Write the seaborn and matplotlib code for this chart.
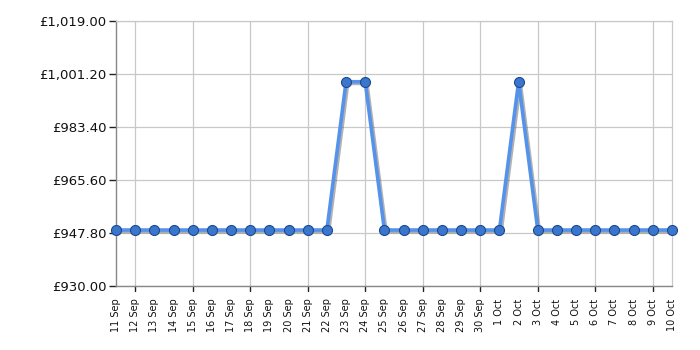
import matplotlib
matplotlib.use("Agg")
import matplotlib.pyplot as plt
import matplotlib.patheffects as pe
import seaborn as sns
import pandas as pd
import numpy as np

dates = ["11 Sep", "12 Sep", "13 Sep", "14 Sep", "15 Sep", "16 Sep", "17 Sep", "18 Sep",
         "19 Sep", "20 Sep", "21 Sep", "22 Sep", "23 Sep", "24 Sep", "25 Sep", "26 Sep",
         "27 Sep", "28 Sep", "29 Sep", "30 Sep", "1 Oct", "2 Oct", "3 Oct", "4 Oct",
         "5 Oct", "6 Oct", "7 Oct", "8 Oct", "9 Oct", "10 Oct"]
prices = [948.80, 948.80, 948.80, 948.80, 948.80, 948.80, 948.80, 948.80,
          948.80, 948.80, 948.80, 948.80, 998.60, 998.60, 948.80, 948.80,
          948.80, 948.80, 948.80, 948.80, 948.80, 998.60, 948.80, 948.80,
          948.80, 948.80, 948.80, 948.80, 948.80, 948.80]
y_ticks = [930.00, 947.80, 965.60, 983.40, 1001.20, 1019.00]

sns.set_theme(style="white")
plt.rcParams['font.family'] = ['DejaVu Sans']

df = pd.DataFrame({"idx": np.arange(len(dates)), "price": prices})

fig = plt.figure(figsize=(7, 3.5), dpi=100)
ax = fig.add_axes([116/700, 64/350, (672-116)/700, (286-21)/350])

sns.lineplot(data=df, x="idx", y="price", ax=ax, color="#5592ea", linewidth=2.6,
             path_effects=[pe.SimpleLineShadow(offset=(1.2, -1.2), shadow_color="#555555", alpha=0.45),
                           pe.Normal()], zorder=3)
sns.scatterplot(data=df, x="idx", y="price", ax=ax, color="#3a76d0", s=52,
                edgecolor="#1d4a88", linewidth=0.8, zorder=4, clip_on=False)

ax.set_xlim(0, len(dates) - 1)
ax.set_ylim(930, 1019)
ax.set_yticks(y_ticks)
ax.set_yticklabels([f"£{v:,.2f}" for v in y_ticks], fontsize=9.5, color="#111111")

ax.set_xticks(np.arange(len(dates)))
ax.set_xticklabels(dates, rotation=90, fontsize=7, color="#111111")
ax.set_xlabel("")
ax.set_ylabel("")

for y in y_ticks:
    ax.axhline(y, color="#c8c8c8", linewidth=0.9, zorder=0)
for i in range(1, len(dates), 3):
    ax.axvline(i, color="#c8c8c8", linewidth=0.9, zorder=0)

ax.tick_params(axis="y", which="both", left=True, length=5, width=1, color="#222222", pad=2)
ax.tick_params(axis="x", which="both", bottom=False, pad=3)
for i in range(1, len(dates), 3):
    ax.plot([i, i], [0, -0.02], transform=ax.get_xaxis_transform(), color="#222222",
            linewidth=1, clip_on=False)

for s in ["left", "bottom"]:
    ax.spines[s].set_color("#888888")
    ax.spines[s].set_linewidth(1)
for s in ["top", "right"]:
    ax.spines[s].set_color("#c8c8c8")
    ax.spines[s].set_linewidth(0.9)

fig.savefig("out.png", dpi=100)
